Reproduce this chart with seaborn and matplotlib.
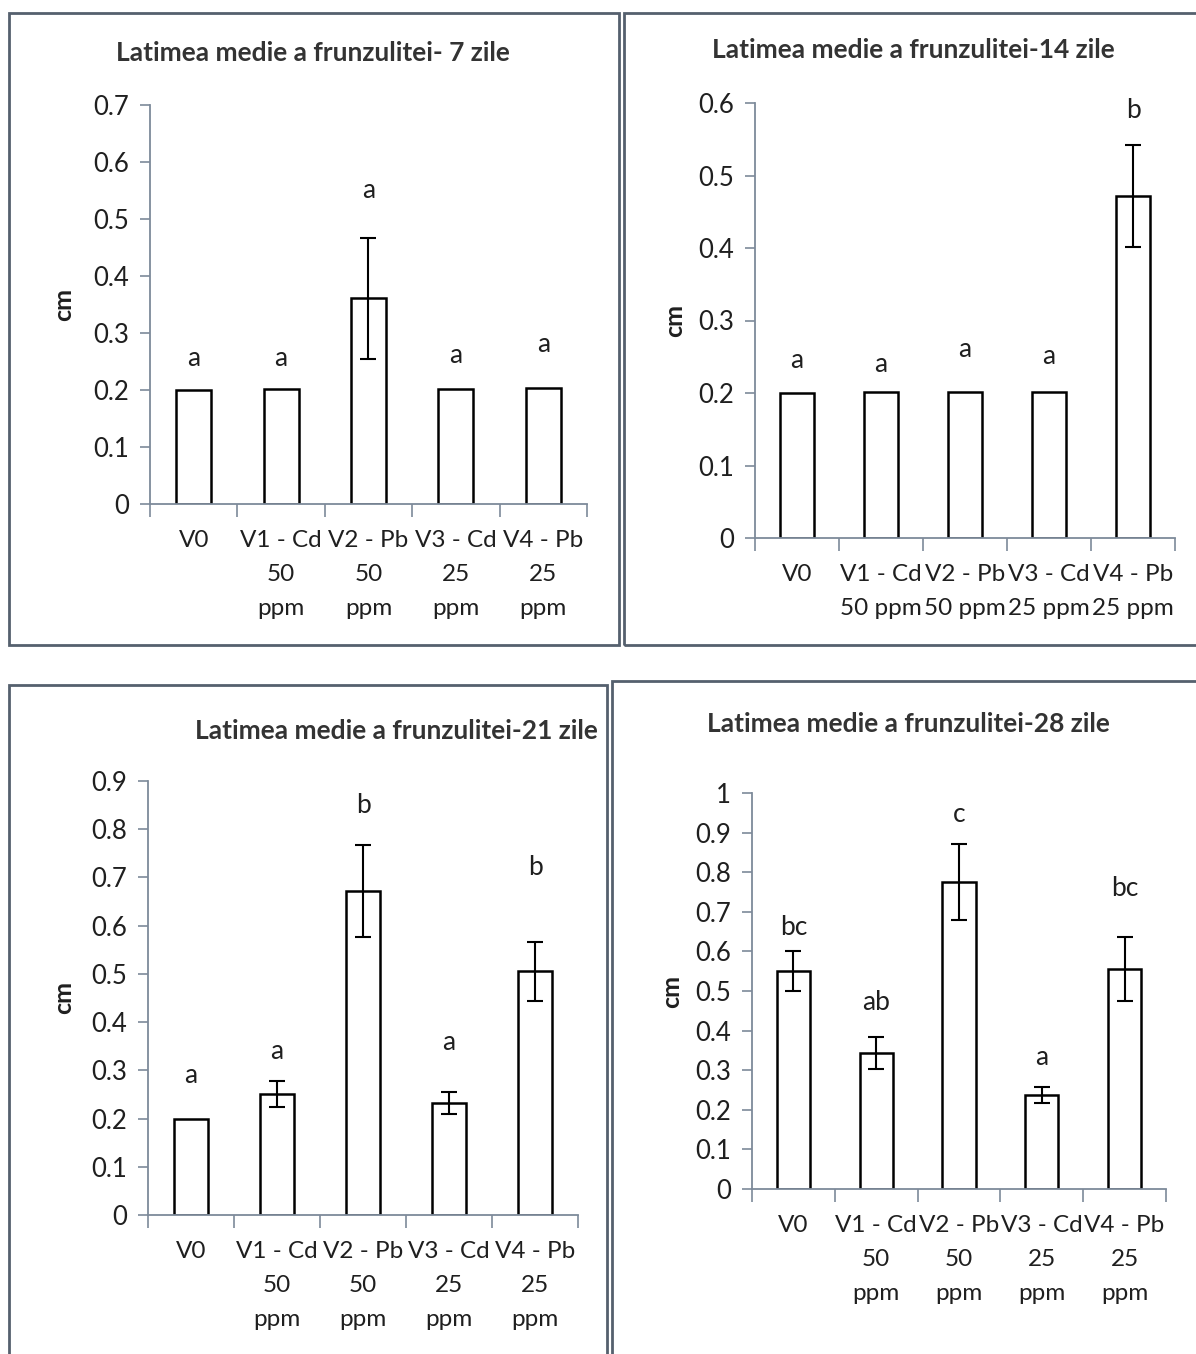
import matplotlib
matplotlib.use("Agg")
import matplotlib.pyplot as plt
import seaborn as sns
import numpy as np
from matplotlib.patches import Rectangle

# ---------------- data ----------------
categories_tall = ["V0", "V1 - Cd\n50\nppm", "V2 - Pb\n50\nppm", "V3 - Cd\n25\nppm", "V4 - Pb\n25\nppm"]
categories_wide = ["V0", "V1 - Cd\n50 ppm", "V2 - Pb\n50 ppm", "V3 - Cd\n25 ppm", "V4 - Pb\n25 ppm"]

titles = ["Latimea medie a frunzulitei- 7 zile",
          "Latimea medie a frunzulitei-14 zile",
          "Latimea medie a frunzulitei-21 zile",
          "Latimea medie a frunzulitei-28 zile"]

vals_7 = [0.200, 0.201, 0.361, 0.202, 0.203]
err_7 = [0.0, 0.0, 0.106, 0.0, 0.0]
letters_7 = ["a", "a", "a", "a", "a"]

vals_14 = [0.200, 0.201, 0.201, 0.202, 0.472]
err_14 = [0.0, 0.0, 0.0, 0.0, 0.070]
letters_14 = ["a", "a", "a", "a", "b"]

vals_21 = [0.200, 0.251, 0.672, 0.233, 0.505]
err_21 = [0.0, 0.027, 0.095, 0.023, 0.062]
letters_21 = ["a", "a", "b", "a", "b"]

vals_28 = [0.550, 0.343, 0.775, 0.237, 0.556]
err_28 = [0.050, 0.041, 0.095, 0.021, 0.080]
letters_28 = ["bc", "ab", "c", "a", "bc"]

yticks_7 = [0, 0.1, 0.2, 0.3, 0.4, 0.5, 0.6, 0.7]
yticks_14 = [0, 0.1, 0.2, 0.3, 0.4, 0.5, 0.6]
yticks_21 = [0, 0.1, 0.2, 0.3, 0.4, 0.5, 0.6, 0.7, 0.8, 0.9]
yticks_28 = [0, 0.1, 0.2, 0.3, 0.4, 0.5, 0.6, 0.7, 0.8, 0.9, 1]

# ---------------- layout (pixels) ----------------
W, H = 1196, 1354
letter_y = [
    [0.255, 0.255, 0.55, 0.26, 0.28],
    [0.245, 0.24, 0.26, 0.25, 0.59],
    [0.29, 0.34, 0.85, 0.357, 0.72],
    [0.66, 0.47, 0.945, 0.333, 0.76],
]
axes_px = [  # left, top, right, bottom
    (150, 105, 587, 504),
    (755, 103, 1175, 538),
    (148, 781, 578, 1215),
    (752, 793, 1166, 1189),
]
boxes_px = [  # left, top, right, bottom
    (9, 13, 619, 645),
    (624, 13, 1200, 645),
    (9, 685, 607, 1360),
    (612, 681, 1200, 1360),
]
title_pos = [(313, 53), (913, 50), (396, 731), (908, 724)]
ylabel_x = [64, 675, 64, 672]

sns.set_theme(style="white")
plt.rcParams["font.family"] = ["Lato", "DejaVu Sans"]

fig = plt.figure(figsize=(W / 100, H / 100), dpi=100)
fig.patch.set_facecolor("white")

txt_col = "#1f1f1f"
axis_col = "#7d8a9a"

panels = [
    (vals_7, err_7, letters_7, yticks_7, categories_tall),
    (vals_14, err_14, letters_14, yticks_14, categories_wide),
    (vals_21, err_21, letters_21, yticks_21, categories_tall),
    (vals_28, err_28, letters_28, yticks_28, categories_tall),
]

for k, (vals, errs, letters, yt, cats) in enumerate(panels):
    # border box
    bl, bt, br, bb = boxes_px[k]
    fig.patches.append(Rectangle((bl / W, 1 - bb / H), (br - bl) / W, (bb - bt) / H,
                                 transform=fig.transFigure, fill=False,
                                 edgecolor="#55606e", linewidth=2.0, zorder=0))
    l, t, r, b = axes_px[k]
    ax = fig.add_axes([l / W, 1 - b / H, (r - l) / W, (b - t) / H])
    sns.barplot(x=list(range(5)), y=vals, ax=ax, color="white", edgecolor="black",
                linewidth=1.8, width=0.4, native_scale=True)
    for i, (v, e) in enumerate(zip(vals, errs)):
        if e > 0:
            ax.errorbar(i, v, yerr=e, color="black", linewidth=1.5, capsize=6,
                        capthick=1.5, zorder=5)
        ax.text(i, letter_y[k][i], letters[i], ha="center", va="center",
                fontsize=19, color=txt_col)
    ax.set_xlim(-0.5, 4.5)
    ax.set_ylim(0, yt[-1])
    ax.set_yticks(yt)
    ax.set_yticklabels([("%g" % v) for v in yt], fontsize=18.5, color=txt_col)
    ax.set_xticks(np.arange(-0.5, 5.0, 1.0))
    ax.set_xticklabels([])
    ax.set_xticks(range(5), minor=True)
    ax.set_xticklabels(cats, minor=True, fontsize=17.5, color=txt_col, linespacing=1.75)
    ax.tick_params(axis="x", which="minor", bottom=True, length=0, pad=19)
    ax.tick_params(axis="x", which="major", bottom=True, length=9, width=1.2,
                   color=axis_col, direction="out")
    ax.tick_params(axis="y", which="major", left=True, length=7, width=1.2,
                   color=axis_col, direction="out", pad=8)
    ax.set_xlabel("")
    ax.set_ylabel("")
    for s in ["top", "right"]:
        ax.spines[s].set_visible(False)
    for s in ["left", "bottom"]:
        ax.spines[s].set_color(axis_col)
        ax.spines[s].set_linewidth(1.3)
    ax.set_facecolor("none")
    # title
    tx, ty = title_pos[k]
    fig.text(tx / W, 1 - ty / H, titles[k], ha="center", va="center",
             fontsize=19, fontweight="bold", color="#333333")
    # y label
    fig.text(ylabel_x[k] / W, 1 - ((t + b) / 2) / H, "cm", rotation=90, ha="center",
             va="center", fontsize=18, fontweight="bold", color=txt_col)

fig.savefig("out.png", dpi=100, facecolor="white")
